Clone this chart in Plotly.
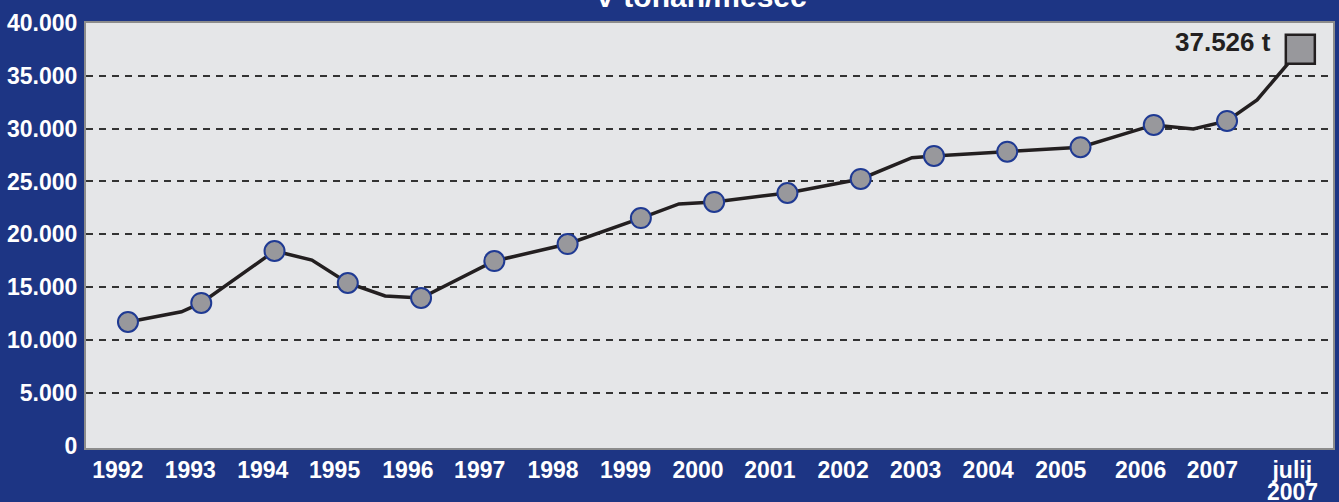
import plotly.graph_objects as go

# monthly tonnage (t/month), yearly points plus in-between vertices of the line
line_x = [1992, 1992.73, 1993, 1994, 1994.51, 1995, 1995.51, 1996, 1997, 1998,
          1999, 1999.52, 2000, 2001, 2002, 2002.7, 2003, 2004, 2005, 2006,
          2006.54, 2007, 2007.41, 2008]
line_y = [11700, 12670, 13500, 18420, 17560, 15390, 14160, 13970, 17470, 19080,
          21540, 22870, 23060, 23910, 25240, 27250, 27420, 27820, 28240, 30350,
          29970, 30730, 32720, 37526]

marker_x = [1992, 1993, 1994, 1995, 1996, 1997, 1998, 1999, 2000, 2001, 2002,
            2003, 2004, 2005, 2006, 2007]
marker_y = [11700, 13500, 18420, 15390, 13970, 17470, 19080, 21540, 23060, 23910,
            25240, 27420, 27820, 28240, 30350, 30730]

last_x = [2008]
last_y = [37526]
last_label = "37.526 t"

tick_labels = ["1992", "1993", "1994", "1995", "1996", "1997", "1998", "1999",
               "2000", "2001", "2002", "2003", "2004", "2005", "2006", "2007",
               "julij<br>2007"]
tick_years = [1992, 1993, 1994, 1995, 1996, 1997, 1998, 1999, 2000, 2001, 2002,
              2003, 2004, 2005, 2006, 2007, 2008]

y_ticks = [0, 5000, 10000, 15000, 20000, 25000, 30000, 35000, 40000]
y_labels = ["0", "5.000", "10.000", "15.000", "20.000", "25.000", "30.000",
            "35.000", "40.000"]

title = "V tonah/mesec"

# labels sit a little left of the points in the original
tick_shift = [0.14, 0.15, 0.16, 0.18, 0.18, 0.2, 0.2, 0.21, 0.22, 0.24, 0.24,
              0.25, 0.26, 0.27, 0.18, 0.2, 0.11]
tick_pos = [y - s for y, s in zip(tick_years, tick_shift)]

BLUE = "#1d3584"
DARK = "#231f20"
GREY = "#98989c"
FONT = "Liberation Sans"
tick_font = dict(family=FONT, size=23, color="white", weight="bold")

# two-line last label: first line as tick, second line placed tighter below
first_lines = [t.split("<br>")[0] for t in tick_labels]
extra_lines = [(p, t.split("<br>")[1]) for p, t in zip(tick_pos, tick_labels)
               if "<br>" in t]

fig = go.Figure()

# invisible trace so the grid axis gets drawn
fig.add_trace(go.Scatter(
    x=[line_x[0]], y=[line_y[0]], mode="markers", yaxis="y2",
    marker=dict(opacity=0), hoverinfo="skip", showlegend=False
))
fig.add_trace(go.Scatter(
    x=line_x, y=line_y, mode="lines",
    line=dict(color=DARK, width=3.5),
    hoverinfo="skip", showlegend=False
))
fig.add_trace(go.Scatter(
    x=marker_x, y=marker_y, mode="markers",
    marker=dict(size=20, color=GREY, line=dict(color="#1f3a93", width=2)),
    showlegend=False
))
fig.add_trace(go.Scatter(
    x=last_x, y=last_y, mode="markers",
    marker=dict(symbol="square", size=29, color=GREY,
                line=dict(color=DARK, width=2.5)),
    showlegend=False
))

fig.add_annotation(
    x=last_x[0], y=last_y[0], text=last_label, showarrow=False,
    xanchor="right", yanchor="middle", xshift=-27, yshift=7,
    font=dict(family=FONT, size=26, color=DARK, weight="bold")
)
fig.add_annotation(
    x=0.493, y=1, xref="paper", yref="paper", text=title, showarrow=False,
    xanchor="center", yanchor="bottom", yshift=8,
    font=dict(family=FONT, size=30, color="white", weight="bold")
)
for px, txt in extra_lines:
    fig.add_annotation(
        x=px, y=0, xref="x", yref="paper", text=txt, showarrow=False,
        xanchor="center", yanchor="top", yshift=-29, font=tick_font
    )

fig.update_layout(
    width=1339, height=502,
    margin=dict(l=86, r=6, t=23, b=54, autoexpand=False),
    paper_bgcolor=BLUE,
    plot_bgcolor="#e5e6e8",
    xaxis=dict(
        range=[1991.427, 2008.446], automargin=False,
        tickvals=tick_pos, ticktext=first_lines,
        ticks="", showgrid=False, zeroline=False,
        showline=True, linecolor="#8c8c8c", linewidth=2, mirror=True,
        tickfont=tick_font,
    ),
    yaxis=dict(
        range=[-227, 40000], automargin=False,
        tickvals=y_ticks, ticktext=y_labels,
        ticks="", showgrid=False, zeroline=False, ticklabelstandoff=2,
        showline=True, linecolor="#8c8c8c", linewidth=2, mirror=True,
        tickfont=tick_font,
    ),
    yaxis2=dict(
        overlaying="y", range=[-227, 40000], automargin=False,
        tickvals=y_ticks[1:-1], showticklabels=False, ticks="",
        showgrid=True, gridcolor="#333333", gridwidth=1.5, griddash="7px,6px",
        zeroline=False, showline=False,
    ),
)

# page has a default 8px body margin; drop it so the figure fills the window
fig.write_html(
    "out.html",
    config={"displayModeBar": False},
    post_script="document.body.style.margin='0';"
                "document.body.style.background='" + BLUE + "';"
                "document.body.style.overflow='hidden';",
)
